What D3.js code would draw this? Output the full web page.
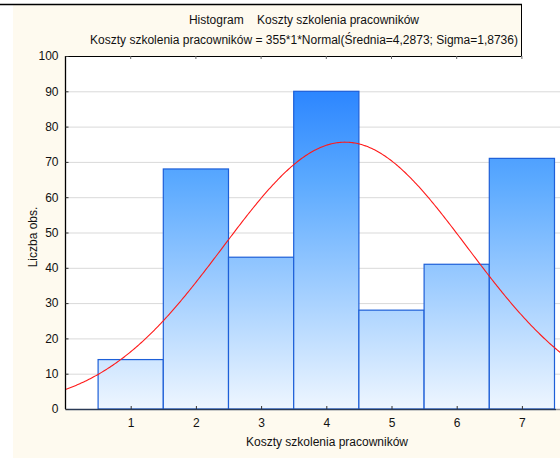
<!DOCTYPE html>
<html>
<head>
<meta charset="utf-8">
<script src="https://cdn.jsdelivr.net/npm/d3@7"></script>
<style>
  html, body { margin: 0; padding: 0; background: #ffffff; }
  svg { display: block; font-family: "Liberation Sans", Arial, sans-serif; }
</style>
</head>
<body>
<svg id="chart" width="560" height="475"></svg>
<script>
// Histogram: counts per category of training cost
const categories = [1, 2, 3, 4, 5, 6, 7];
const counts = [14, 68, 43, 90, 28, 41, 71];
const yTicks = [0, 10, 20, 30, 40, 50, 60, 70, 80, 90, 100];
const xTicks = [1, 2, 3, 4, 5, 6, 7];

// Fitted normal curve parameters
const total = 355, binWidth = 1, mean = 4.2873, sigma = 1.8736;

const title1 = "Histogram    Koszty szkolenia pracowników";
const title2 = "Koszty szkolenia pracowników = 355*1*Normal(Średnia=4,2873; Sigma=1,8736)";
const xTitle = "Koszty szkolenia pracowników";
const yTitle = "Liczba obs.";

const svg = d3.select("#chart");
const W = 560, H = 475;
const plot = { left: 65.5, top: 56, bottom: 409, right: 572 };

const x = d3.scaleLinear().domain([0, 7.7]).range([plot.left, plot.left + 7.7 * 65.2]);
const y = d3.scaleLinear().domain([0, 100]).range([plot.bottom, plot.top]);

// window backdrop
svg.append("rect").attr("x", 0).attr("y", 0).attr("width", W).attr("height", H).attr("fill", "#ffffff");
svg.append("rect").attr("x", 13).attr("y", 5).attr("width", W - 13).attr("height", 453).attr("fill", "#fefaef");
svg.append("rect").attr("x", 521.5).attr("y", 0).attr("width", W - 521.5).attr("height", plot.top).attr("fill", "#ffffff");
svg.append("line").attr("x1", 0).attr("x2", 522).attr("y1", 4.5).attr("y2", 4.5).attr("stroke", "#000").attr("stroke-width", 1.5);
svg.append("line").attr("x1", 521.5).attr("x2", 521.5).attr("y1", 4).attr("y2", plot.top).attr("stroke", "#000").attr("stroke-width", 1);

// plot area
svg.append("rect").attr("x", plot.left).attr("y", plot.top)
  .attr("width", plot.right - plot.left).attr("height", plot.bottom - plot.top).attr("fill", "#ffffff");

const defs = svg.append("defs");
const grad = defs.append("linearGradient").attr("id", "barFill")
  .attr("gradientUnits", "userSpaceOnUse")
  .attr("x1", 0).attr("x2", 0).attr("y1", y(100)).attr("y2", y(0));
grad.append("stop").attr("offset", "0").attr("stop-color", "#1a78ff");
grad.append("stop").attr("offset", "0.35").attr("stop-color", "#5aa9ff");
grad.append("stop").attr("offset", "1").attr("stop-color", "#eef6ff");

const clip = defs.append("clipPath").attr("id", "plotClip");
clip.append("rect").attr("x", plot.left).attr("y", plot.top - 2)
  .attr("width", plot.right - plot.left).attr("height", plot.bottom - plot.top + 2);

// horizontal grid
svg.append("g").selectAll("line").data(yTicks.filter(d => d > 0 && d < 100)).join("line")
  .attr("x1", plot.left).attr("x2", W)
  .attr("y1", d => y(d) + 0.5).attr("y2", d => y(d) + 0.5)
  .attr("stroke", "#d9d9d9").attr("stroke-width", 1);

// bars
svg.append("g").selectAll("rect").data(categories).join("rect")
  .attr("x", (d) => x(d - binWidth / 2))
  .attr("y", (d, i) => y(counts[i]))
  .attr("width", (d) => x(d + binWidth / 2) - x(d - binWidth / 2))
  .attr("height", (d, i) => y(0) - y(counts[i]))
  .attr("fill", "url(#barFill)")
  .attr("stroke", "#1d5fd8").attr("stroke-width", 1.2);

// normal curve
const pdf = v => total * binWidth * Math.exp(-((v - mean) ** 2) / (2 * sigma * sigma)) / (sigma * Math.sqrt(2 * Math.PI));
const xs = d3.range(0, 7.71, 0.02);
svg.append("path").attr("clip-path", "url(#plotClip)")
  .datum(xs)
  .attr("d", d3.line().x(v => x(v)).y(v => y(pdf(v))))
  .attr("fill", "none").attr("stroke", "#ff1a1a").attr("stroke-width", 1.1);

// axes frame
svg.append("line").attr("x1", plot.left).attr("x2", plot.left).attr("y1", plot.top).attr("y2", plot.bottom)
  .attr("stroke", "#000").attr("stroke-width", 1.3);
svg.append("line").attr("x1", plot.left).attr("x2", 521.5).attr("y1", plot.top + 0.5).attr("y2", plot.top + 0.5)
  .attr("stroke", "#000").attr("stroke-width", 1.2);
svg.append("line").attr("x1", plot.left).attr("x2", 556).attr("y1", plot.bottom + 0.5).attr("y2", plot.bottom + 0.5)
  .attr("stroke", "#2a3a55").attr("stroke-width", 1.5);
svg.append("line").attr("x1", 556).attr("x2", W).attr("y1", plot.bottom + 0.5).attr("y2", plot.bottom + 0.5)
  .attr("stroke", "#999").attr("stroke-width", 1.5);

// y axis
const yAxis = d3.axisLeft(y).tickValues(yTicks).tickSize(-3).tickPadding(7).tickFormat(d3.format("d"));
const gy = svg.append("g").attr("transform", `translate(${plot.left},0)`).call(yAxis);
gy.select(".domain").remove();
gy.selectAll(".tick line").attr("stroke", "#333");
gy.selectAll("text").attr("font-size", 12).attr("fill", "#111");

// x axis
const xAxis = d3.axisBottom(x).tickValues(xTicks).tickSize(-3).tickPadding(9).tickFormat(d3.format("d"));
const gx = svg.append("g").attr("transform", `translate(0,${plot.bottom})`).call(xAxis);
gx.select(".domain").remove();
gx.selectAll(".tick line").attr("stroke", "#333");
gx.selectAll("text").attr("font-size", 12).attr("fill", "#111");

// top ticks
svg.append("g").selectAll("line").data(xTicks).join("line")
  .attr("x1", d => x(d)).attr("x2", d => x(d))
  .attr("y1", plot.top).attr("y2", plot.top + 3)
  .attr("stroke", "#666");

// titles
svg.append("text").attr("x", 304).attr("y", 24).attr("text-anchor", "middle")
  .attr("font-size", 12).attr("fill", "#111").attr("xml:space", "preserve").text(title1);
svg.append("text").attr("x", 304).attr("y", 44).attr("text-anchor", "middle")
  .attr("font-size", 12).attr("fill", "#111").text(title2);
svg.append("text").attr("x", 327).attr("y", 446).attr("text-anchor", "middle")
  .attr("font-size", 12).attr("fill", "#111").text(xTitle);
svg.append("text").attr("transform", "translate(37,237) rotate(-90)").attr("text-anchor", "middle")
  .attr("font-size", 12).attr("fill", "#111").text(yTitle);
</script>
</body>
</html>
